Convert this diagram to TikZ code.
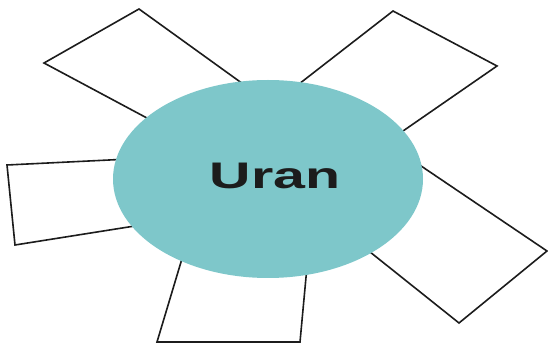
\documentclass[tikz,border=0pt]{standalone}
\usepackage{fontspec}
\usetikzlibrary{shapes.geometric}
\newfontfamily\uranfont[FakeStretch=1.55]{Liberation Sans}
\definecolor{turquesa}{RGB}{126,199,202}
\definecolor{tinta}{RGB}{28,28,28}
\begin{document}
\begin{tikzpicture}[x=1pt, y=-1pt,  % un pixel por punto
    hoja/.style={draw=tinta, line width=1.6pt, fill=white, line join=miter},
    centro/.style={ellipse, fill=turquesa, minimum width=310pt, minimum height=198pt, inner sep=0pt}]
      \useasboundingbox (0,0) rectangle (548,344);

      % Esquinas de las hojas (la cuarta queda tapada por la elipse)
      \coordinate (ai1) at (44,63);   \coordinate (ai2) at (139,9);
      \coordinate (ai3) at (250,89);  \coordinate (ai4) at (160,125);
      \coordinate (ad1) at (393,11);  \coordinate (ad2) at (497,66);
      \coordinate (ad3) at (390,140); \coordinate (ad4) at (290,91);
      \coordinate (iz1) at (7,165);   \coordinate (iz2) at (15,245);
      \coordinate (iz3) at (160,222); \coordinate (iz4) at (150,158);
      \coordinate (ab1) at (157,342); \coordinate (ab2) at (300,342);
      \coordinate (ab3) at (309,245); \coordinate (ab4) at (190,232);
      \coordinate (de1) at (390,145); \coordinate (de2) at (547,251);
      \coordinate (de3) at (459,323); \coordinate (de4) at (350,236);

      % Dibuja las hojas
      \foreach \h in {ai,ad,iz,ab,de} {
        \draw[hoja] (\h1) -- (\h2) -- (\h3) -- (\h4) -- cycle;
      }

      % Elipse central y su rótulo
      \node[centro] (uran) at (268,179) {};
      \node[inner sep=0pt, text=tinta, font=\uranfont\bfseries\fontsize{37}{37}\selectfont]
        (uranlbl) at (275,176) {Uran};
    \end{tikzpicture}
\end{document}
